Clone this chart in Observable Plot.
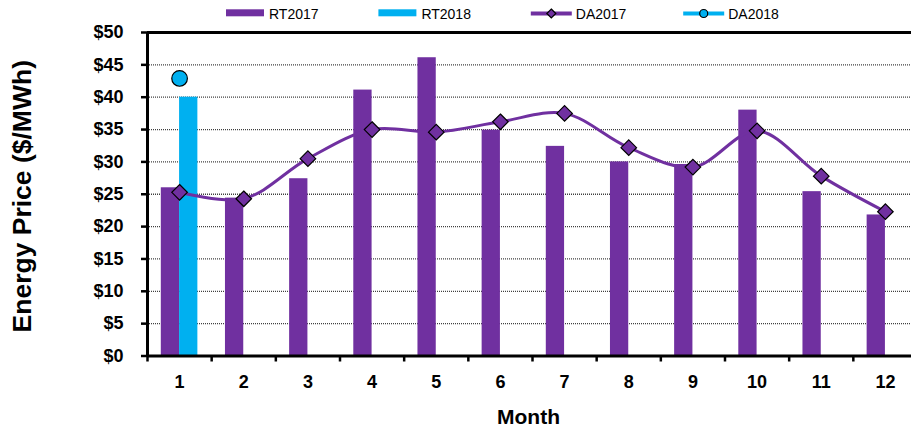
<!DOCTYPE html>
<html><head><meta charset="utf-8">
<script src="https://cdn.jsdelivr.net/npm/d3@7"></script>
<script src="https://cdn.jsdelivr.net/npm/@observablehq/plot@0.6"></script>
<style>
body{margin:0;background:#fff;font-family:"Liberation Sans",Arial,sans-serif;}
#wrap{width:911px;height:432px;overflow:hidden;background:#fff;}
#legend{display:block}
#chart svg{display:block;overflow:visible}
</style></head><body>
<div id="wrap"><svg id="legend" width="911" height="24"></svg><div id="chart"></div></div>
<script>
const months = [1,2,3,4,5,6,7,8,9,10,11,12];
const monthLabels = ["1","2","3","4","5","6","7","8","9","10","11","12"];
const rt2017 = [26.0, 24.4, 27.4, 41.1, 46.1, 34.9, 32.4, 30.0, 29.6, 38.0, 25.4, 21.8];
const rt2018 = [40.0];
const da2017 = [25.3, 24.3, 30.5, 35.0, 34.6, 36.2, 37.5, 32.2, 29.2, 34.8, 27.8, 22.3];
const da2018 = [42.9];
const yTicks = [0,5,10,15,20,25,30,35,40,45,50];
const seriesNames = ["RT2017","RT2018","DA2017","DA2018"];

const PURPLE = "#7030A0", BLUE = "#00B0F0";
const rtRows = months.map((m,i)=>({month:m, value:rt2017[i]}));
const rt18Rows = rt2018.map((v,i)=>({month:months[i], value:v}));
const daRows = months.map((m,i)=>({month:m, value:da2017[i]}));
const da18Rows = da2018.map((v,i)=>({month:months[i], value:v}));
const bounds = [...months.map(m=>m-0.5), months[months.length-1]+0.5];
const barW = 0.285;

// Legend
const lg = d3.select("#legend");
const legendTypes = ["bar","bar","lineDiamond","lineCircle"];
const legendColors = [PURPLE, BLUE, PURPLE, BLUE];
seriesNames.forEach((name,i)=>{
  const x0 = 226 + i*152.4;
  const g = lg.append("g");
  if (legendTypes[i]==="bar") {
    g.append("rect").attr("x",x0).attr("y",9.3).attr("width",38).attr("height",7).attr("fill",legendColors[i]);
  } else {
    g.append("line").attr("x1",x0).attr("x2",x0+41).attr("y1",13.5).attr("y2",13.5)
      .attr("stroke",legendColors[i]).attr("stroke-width",4);
    const cx = x0+20.5;
    if (legendTypes[i]==="lineDiamond") {
      g.append("path").attr("d",`M${cx},${13.5-4.5}L${cx+4.5},13.5L${cx},${13.5+4.5}L${cx-4.5},13.5Z`)
        .attr("fill",legendColors[i]).attr("stroke","#000").attr("stroke-width",1.2);
    } else {
      g.append("circle").attr("cx",cx).attr("cy",13.5).attr("r",4)
        .attr("fill",legendColors[i]).attr("stroke","#000").attr("stroke-width",1.2);
    }
  }
  g.append("text").attr("x",x0 + (legendTypes[i]==="bar"?43:45)).attr("y",18.7)
    .attr("font-size",14).attr("font-family","Liberation Sans, Arial, sans-serif").attr("fill","#000").text(name);
});

const plot = Plot.plot({
  width: 911, height: 408,
  marginTop: 8, marginBottom: 76.5, marginLeft: 147, marginRight: -6,
  style: {fontFamily: "Liberation Sans, Arial, sans-serif", fontWeight: "bold", fontSize: "18px", background: "white", color: "#000", overflow: "visible"},
  x: {type: "linear", domain: [0.5, 12.5], axis: null},
  y: {domain: [0, 50], axis: null},
  marks: [
    Plot.ruleY(yTicks.filter(t=>t>0 && t<50), {stroke:"#000", strokeOpacity:0.75, strokeWidth:1.3, strokeDasharray:"1,1"}),
    Plot.rectY(rtRows, {x1: d=>d.month-barW, x2: "month", y: "value", fill: PURPLE}),
    Plot.rectY(rt18Rows, {x1: "month", x2: d=>d.month+barW, y: "value", fill: BLUE}),
    Plot.ruleY([0, 50], {stroke: "#000", strokeWidth: 3}),
    Plot.ruleX([0.5], {stroke:"#000", strokeWidth:3}),
    Plot.axisY({ticks: yTicks, tickFormat: d=>"$"+d, tickSize: 6, tickPadding: 18, strokeWidth: 2.5, label: null}),
    Plot.axisX({ticks: bounds, tickSize: 6, strokeWidth: 2.5, tickFormat: () => "", label: null}),
    Plot.axisX({ticks: months, tickSize: 0, tickPadding: 19, tickFormat: (d)=>monthLabels[months.indexOf(d)], label: null}),
    Plot.line(daRows, {x:"month", y:"value", curve:"catmull-rom", stroke:PURPLE, strokeWidth:3}),
    Plot.dot(daRows, {x:"month", y:"value", symbol:"diamond2", r:7, fill:PURPLE, stroke:"#000", strokeWidth:1.2}),
    Plot.dot(da18Rows, {x:"month", y:"value", r:7.8, fill:BLUE, stroke:"#000", strokeWidth:1.2}),
    Plot.text(["Energy Price ($/MWh)"], {frameAnchor:"left", textAnchor:"middle", dx:-125, dy:2, rotate:-90, fontSize:26.5}),
    Plot.text(["Month"], {frameAnchor:"bottom", dy:68, dx:-4, fontSize:21})
  ]
});
document.getElementById("chart").appendChild(plot);
</script>
</body></html>
